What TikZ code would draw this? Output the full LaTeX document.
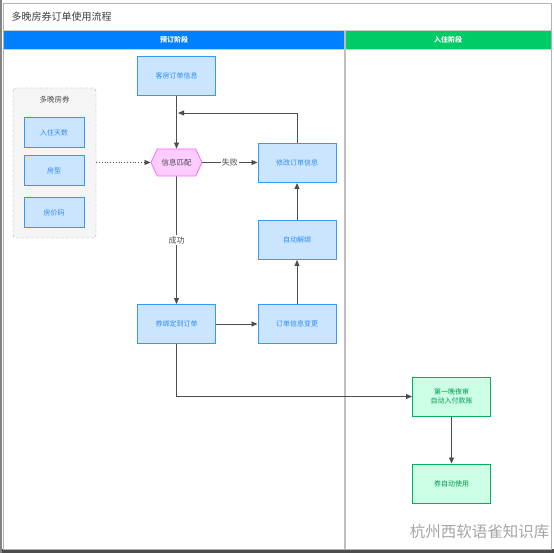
\documentclass[tikz,border=0pt]{standalone}
\usepackage{fontspec}
\setmainfont{Noto Sans CJK SC}
\usepackage{tikz}
\usetikzlibrary{calc}
\usetikzlibrary{shapes}
\usetikzlibrary{arrows.meta}
\usetikzlibrary{backgrounds}

\definecolor{bookblue}{HTML}{0080FF}
\definecolor{stayGreen}{HTML}{00CC66}
\definecolor{boxfill}{HTML}{CCE5FF}
\definecolor{boxline}{HTML}{3399FF}
\definecolor{btext}{HTML}{2A8CF0}
\definecolor{gboxfill}{HTML}{CCFFE6}
\definecolor{gboxline}{HTML}{00B259}
\definecolor{gtext}{HTML}{00994C}
\definecolor{matchfill}{HTML}{FFCCFF}
\definecolor{matchline}{HTML}{FF66FF}
\definecolor{flowgray}{HTML}{4D4D4D}

\tikzset{
  bookbox/.style={draw=boxline, line width=1pt, fill=boxfill, text=btext,
    minimum width=78pt, minimum height=39pt, font=\fontsize{7}{8.5}\selectfont},
  smallbox/.style={bookbox, minimum width=60pt, minimum height=30pt},
  staybox/.style={draw=gboxline, line width=1pt, fill=gboxfill, text=gtext,
    minimum width=78pt, minimum height=39pt, align=center,
    font=\fontsize{7}{8.5}\selectfont},
  flow/.style={draw=flowgray, line width=0.8pt, -{Triangle[length=6pt,width=5pt]}},
  lbl/.style={fill=white, text=flowgray, inner sep=1pt, font=\fontsize{8}{9}\selectfont},
}

\begin{document}
\begin{tikzpicture}[x=1pt, y=-1pt]
  \useasboundingbox (0,0) rectangle (554,553);
  \fill[white] (0,0) rectangle (554,553);
  \fill[flowgray] (0,549) rectangle (554,553);
  \fill[flowgray!70] (0,0) rectangle (2,553);
  \draw[gray!60, line width=0.8pt] (3.5,3.5) rectangle (551,549);

  \node[anchor=west, text=black!75, font=\fontsize{10}{12}\selectfont] (title) at (8,17) {多晚房券订单使用流程};

  \fill[bookblue] (4,31) rectangle (344.5,49);
  \fill[stayGreen] (345.5,31) rectangle (551,49);
  \draw[gray!40, line width=0.8pt] (4,30.5) -- (551,30.5);
  \draw[gray!40, line width=0.8pt] (4,49.5) -- (551,49.5);
  \draw[gray!50, line width=1.2pt] (345,31) -- (345,549);
  \node[text=white, font=\bfseries\fontsize{7}{8}\selectfont] (booking) at (174,40) {预订阶段};
  \node[text=white, font=\bfseries\fontsize{7}{8}\selectfont] (checkin) at (448,40) {入住阶段};

  \node[draw=gray!70, densely dashed, fill=gray!8, rounded corners=3pt,
        minimum width=83pt, minimum height=150pt] (coupon) at (54.5,163) {};
  \node[text=black!70, font=\fontsize{7.5}{9}\selectfont] (couponlbl) at (54.5,100) {多晚房券};
  \node[smallbox] (nights) at (54,133) {入住天数};
  \node[smallbox] (roomtype) at (54,171) {房型};
  \node[smallbox] (ratecode) at (54,213) {房价码};

  \node[bookbox] (roomorder) at (176.5,76) {客房订单信息};
  \node[signal, signal to=east and west, signal pointer angle=130,
        draw=matchline, line width=0.8pt, fill=matchfill, text=black!70,
        minimum width=51pt, minimum height=27pt, inner sep=1pt,
        font=\fontsize{7.5}{9}\selectfont] (match) at (176.5,162.5) {信息匹配};
  \node[bookbox] (modify) at (297,163) {修改订单信息};
  \node[bookbox] (unbind) at (297,240) {自动解绑};
  \node[bookbox] (bind) at (176.5,324) {券绑定到订单};
  \node[bookbox] (change) at (297,324) {订单信息变更};
  \node[staybox] (nightaudit) at (451.5,396.5) {第一晚夜审\\自动入付款账};
  \node[staybox] (autouse) at (451.5,483.5) {券自动使用};
  \coordinate (backin) at (178,113);

  \draw[flow, dotted] (coupon.east |- match.west) -- (match.west);
  \draw[flow] (roomorder) -- (match);
  \draw[flow] (match.east) -- node[lbl] {失败} (modify.west |- match.east);
  \draw[flow] (modify.north) |- (backin);
  \draw[flow] (match) -- node[lbl, pos=0.5] {成功} (bind);
  \draw[flow] (bind) -- (change);
  \draw[flow] (change) -- (unbind);
  \draw[flow] (unbind) -- (modify);
  \draw[flow] (bind.south) |- (nightaudit.west);
  \draw[flow] (nightaudit) -- (autouse);

  \node[anchor=east, text=gray!70, font=\fontsize{15.5}{18}\selectfont] (mark) at (553,532) {杭州西软语雀知识库};
\end{tikzpicture}
\end{document}
